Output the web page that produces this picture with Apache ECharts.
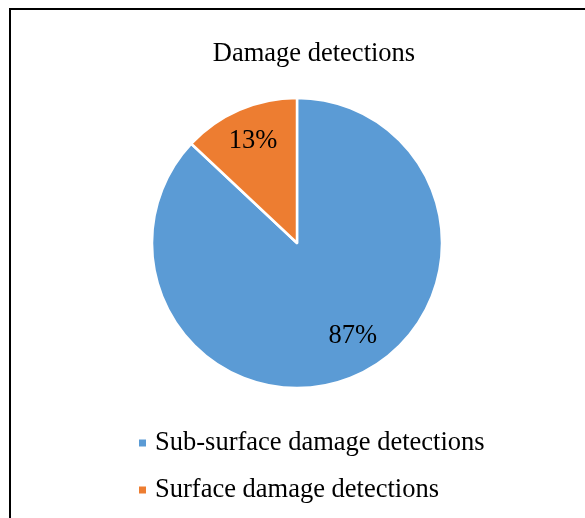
<!DOCTYPE html>
<html>
<head>
<meta charset="utf-8">
<style>
  html, body { margin: 0; padding: 0; background: #fff; }
  #chart { width: 585px; height: 518px; }
</style>
<script src="https://cdn.jsdelivr.net/npm/echarts@6/dist/echarts.min.js"></script>
</head>
<body>
<div id="chart"></div>
<script>
// Share of damage detections by type (percent)
var categories = ['Sub-surface damage detections', 'Surface damage detections'];
var values = [87, 13];
var colors = ['#5B9BD5', '#ED7D31'];

var FONT = '"Liberation Serif", "Times New Roman", serif';
var CENTER = [297, 243];

// per-slice nudges of the percentage labels [dx, dy]
var labelShift = [[11, -11], [1, 2]];

var chart = echarts.init(document.getElementById('chart'), null, { renderer: 'canvas' });

chart.setOption({
  backgroundColor: '#ffffff',
  animation: false,
  title: {
    text: 'Damage detections',
    left: 309,
    textAlign: 'center',
    top: 36,
    textStyle: { fontFamily: FONT, fontSize: 26.5, fontWeight: 'normal', color: '#000' }
  },
  legend: {
    orient: 'vertical',
    left: 137,
    top: 428,
    padding: 0,
    itemWidth: 9,
    itemHeight: 9,
    itemGap: 17,
    icon: 'rect',
    data: categories,
    textStyle: {
      fontFamily: FONT, fontSize: 26.5, color: '#000',
      lineHeight: 30, padding: [0, 0, 0, 3]
    }
  },
  graphic: [{
    type: 'rect',
    shape: { x: 10, y: 9, width: 620, height: 560 },
    style: { fill: 'none', stroke: '#000', lineWidth: 2 },
    silent: true,
    z: 100
  }],
  series: [{
    // the slices
    type: 'pie',
    center: CENTER,
    radius: [0, 145],
    startAngle: 90,
    clockwise: true,
    itemStyle: { borderColor: '#ffffff', borderWidth: 2.5 },
    label: { show: false },
    labelLine: { show: false },
    emphasis: { disabled: true },
    data: categories.map(function (name, i) {
      return { name: name, value: values[i], itemStyle: { color: colors[i] } };
    })
  }, {
    // percentage labels, set on an outer ring so they sit toward the rim
    type: 'pie',
    center: CENTER,
    radius: [70, 150],
    startAngle: 90,
    clockwise: true,
    silent: true,
    itemStyle: { color: 'rgba(0,0,0,0)', borderWidth: 0 },
    label: {
      show: true,
      position: 'inside',
      formatter: '{c}%',
      fontFamily: FONT,
      fontSize: 26.5,
      color: '#000'
    },
    labelLayout: function (params) {
      var s = labelShift[params.dataIndex];
      return { dx: s[0], dy: s[1] };
    },
    labelLine: { show: false },
    emphasis: { disabled: true },
    data: categories.map(function (name, i) {
      return { name: name, value: values[i] };
    })
  }]
});
</script>
</body>
</html>
